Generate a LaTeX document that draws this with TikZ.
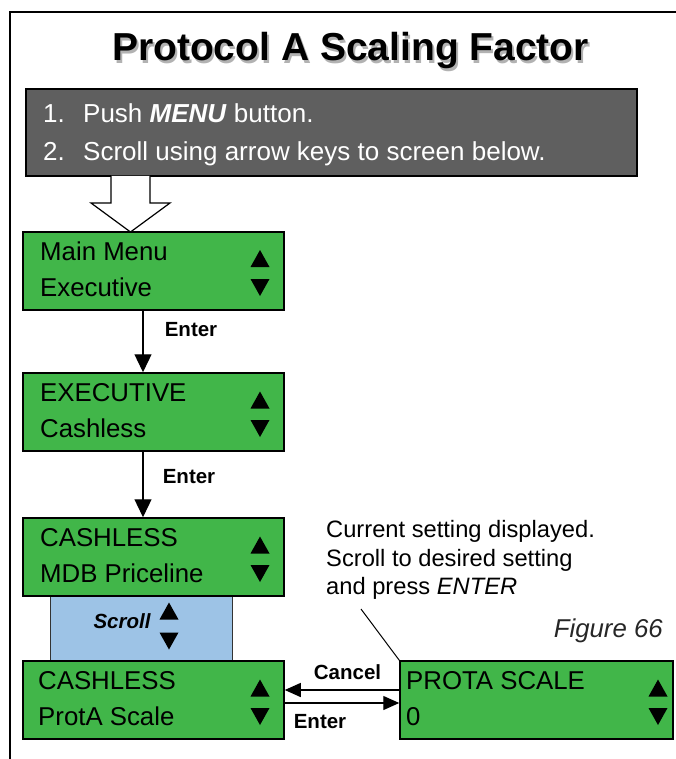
\documentclass[tikz,border=0pt]{standalone}
\usepackage{fontspec}
\setmainfont{Liberation Sans}
\usetikzlibrary{arrows.meta}
\definecolor{lcdgreen}{RGB}{65,182,73}
\definecolor{scrollblue}{RGB}{157,195,230}
\definecolor{stepgray}{RGB}{95,95,95}
\newcommand\lcdup[2]{\fill (#1-9.5,#2+8.5) -- (#1+9.5,#2+8.5) -- (#1,#2-8.5) -- cycle;}
\newcommand\lcddown[2]{\fill (#1-9.5,#2-8.5) -- (#1+9.5,#2-8.5) -- (#1,#2+8.5) -- cycle;}
\begin{document}
\begin{tikzpicture}[x=1pt,y=-1pt,
  lcd/.style={draw=black, line width=1.5pt, fill=lcdgreen, minimum width=261pt, minimum height=78pt, inner sep=0pt},
  lcdtxt/.style={anchor=base west, inner sep=0pt, font=\fontsize{25.8}{30}\selectfont},
  lbl/.style={anchor=base, inner sep=0pt, font=\bfseries\fontsize{20.5}{24}\selectfont},
  steptxt/.style={anchor=base west, inner sep=0pt, text=white, font=\fontsize{26}{30}\selectfont},
  vconn/.style={line width=1.3pt, -{Triangle[length=18pt,width=17pt]}},
  hconn/.style={line width=1.3pt, -{Triangle[length=16pt,width=14pt]}},
  titlefont/.style={anchor=base, inner sep=0pt, font=\bfseries\fontsize{39}{46}\selectfont}
]
\useasboundingbox (0,0) rectangle (676,759);
% frame
\draw[line width=1.5pt] (10,759) -- (10,12) -- (676,12);
% title
\node[titlefont, text=black!30] (titleshadow) at (352.5,63.5) {Protocol A Scaling Factor};
\node[titlefont] (title) at (350.5,61) {Protocol A Scaling Factor};
% instructions box
\node[draw=black, line width=1.5pt, fill=stepgray, minimum width=611pt, minimum height=87pt, inner sep=0pt] (steps) at (331.5,132.5) {};
\node[steptxt] (s1) at (43,123) {\makebox[40pt][l]{1.}Push \textbf{\textit{MENU}} button.};
\node[steptxt] (s2) at (43,161) {\makebox[40pt][l]{2.}Scroll using arrow keys to screen below.};
% hollow arrow
\draw[line width=1.2pt, fill=white, line join=miter] (111,176) -- (111,203) -- (91,203) -- (130.5,232) -- (170,203) -- (150,203) -- (150,176);
% scroll box
\node[draw=black!80, line width=1pt, fill=scrollblue, minimum width=182pt, minimum height=65pt, inner sep=0pt] (scroll) at (141,628.5) {};
\node[anchor=base, inner sep=0pt, font=\bfseries\itshape\fontsize{20.5}{24}\selectfont] (scrolltxt) at (122,628) {Scroll};
\lcdup{169}{611}
\lcddown{169}{641}
% LCD boxes
\node[lcd] (b1) at (153.5,271) {};
\node[lcdtxt] (b1a) at (40,260.5) {Main Menu};
\node[lcdtxt] (b1b) at (40,296) {Executive};
\lcdup{260}{258.5}
\lcddown{260}{287.5}

\node[lcd] (b2) at (153.5,412) {};
\node[lcdtxt] (b2a) at (40,401.5) {EXECUTIVE};
\node[lcdtxt] (b2b) at (40,437) {Cashless};
\lcdup{260}{400}
\lcddown{260}{428.5}

\node[lcd] (b3) at (153.5,557) {};
\node[lcdtxt] (b3a) at (40,546.5) {CASHLESS};
\node[lcdtxt] (b3b) at (40,582) {MDB Priceline};
\lcdup{260}{545}
\lcddown{260}{573.5}

\node[lcd] (b4) at (153.5,700) {};
\node[lcdtxt] (b4a) at (38,689.5) {CASHLESS};
\node[lcdtxt] (b4b) at (38,725) {ProtA Scale};
\lcdup{260}{688}
\lcddown{260}{716.5}

\node[lcd, minimum width=273pt] (b5) at (536.5,700) {};
\node[lcdtxt] (b5a) at (406,689.5) {PROTA SCALE};
\node[lcdtxt] (b5b) at (406,725) {0};
\lcdup{658}{688}
\lcddown{658}{716.5}

% connectors
\draw[vconn] ([xshift=-10.5pt]b1.south) -- ([xshift=-10.5pt]b2.north);
\node[lbl] (e1) at (191,336) {Enter};
\draw[vconn] ([xshift=-10.5pt]b2.south) -- ([xshift=-10.5pt]b3.north);
\node[lbl] (e2) at (189,483) {Enter};
\draw[hconn] ([yshift=10pt]b5.west) -- ([yshift=10pt]b4.east);
\node[lbl] (cancel) at (347.5,679) {Cancel};
\draw[hconn] ([yshift=-3pt]b4.east) -- ([yshift=-3pt]b5.west);
\node[lbl] (e3) at (320,728) {Enter};

% note
\node[anchor=north west, inner sep=0pt, align=left, font=\fontsize{23.7}{28.5}\selectfont] (note) at (326,520.5) {Current setting displayed.\\Scroll to desired setting\\and press \textit{ENTER}};
\coordinate (notept) at (361,609);
\draw[line width=1pt] (notept) -- (b5.north west);

% figure label
\node[anchor=base east, inner sep=0pt, text=black!85, font=\itshape\fontsize{25.8}{30}\selectfont] (fig) at (663,637) {Figure 66};
\end{tikzpicture}
\end{document}
